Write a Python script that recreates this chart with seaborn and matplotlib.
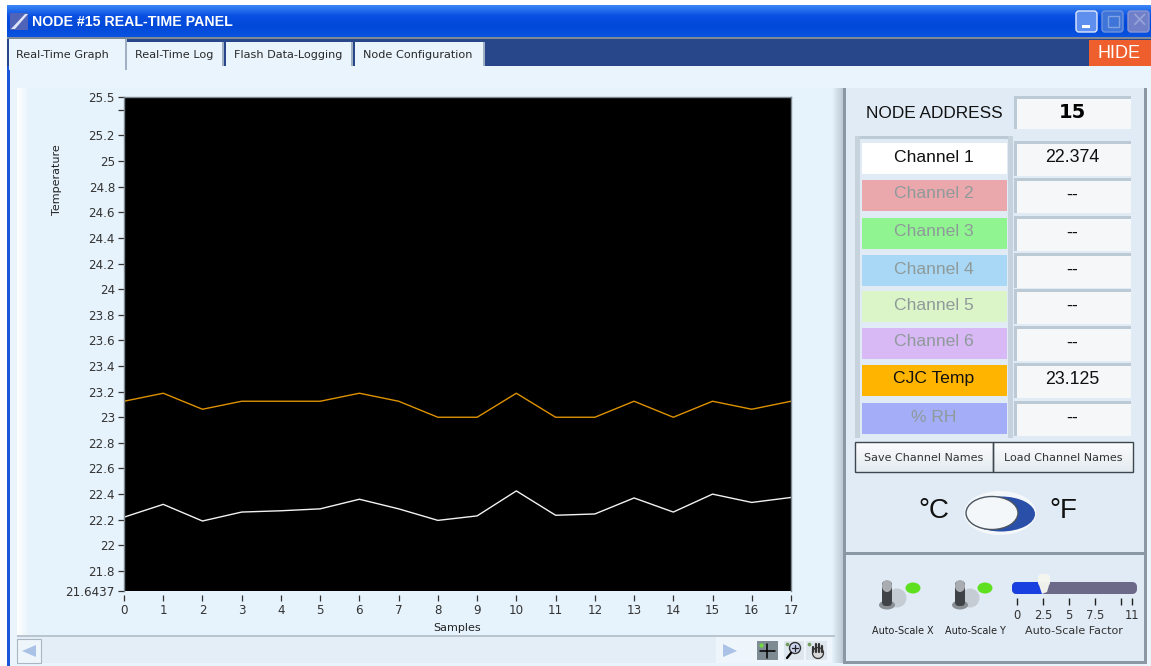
"""LabVIEW style real-time panel: temperature trace plus instrument controls."""

import matplotlib

matplotlib.use("Agg")

import matplotlib.pyplot as plt
import numpy as np
import pandas as pd
import seaborn as sns
from matplotlib.colors import LinearSegmentedColormap
from matplotlib.patches import Ellipse, FancyBboxPatch, Polygon, Rectangle

SAMPLES = list(range(18))
CHANNEL_1 = [22.22, 22.32, 22.19, 22.26, 22.27, 22.285, 22.36, 22.285, 22.195,
             22.23, 22.425, 22.235, 22.245, 22.37, 22.26, 22.40, 22.335, 22.374]
CJC_TEMP = [23.125, 23.1875, 23.0625, 23.125, 23.125, 23.125, 23.1875, 23.125, 23.0,
            23.0, 23.1875, 23.0, 23.0, 23.125, 23.0, 23.125, 23.0625, 23.125]

Y_TICKS = [21.6437, 21.8, 22, 22.2, 22.4, 22.6, 22.8, 23, 23.2, 23.4, 23.6, 23.8,
           24, 24.2, 24.4, 24.6, 24.8, 25, 25.2, 25.4, 25.5]
Y_LABELS = ["21.6437", "21.8", "22", "22.2", "22.4", "22.6", "22.8", "23", "23.2",
            "23.4", "23.6", "23.8", "24", "24.2", "24.4", "24.6", "24.8", "25",
            "25.2", "", "25.5"]

TABS = ["Real-Time Graph", "Real-Time Log", "Flash Data-Logging", "Node Configuration"]
CHANNELS = ["Channel 1", "Channel 2", "Channel 3", "Channel 4",
            "Channel 5", "Channel 6", "CJC Temp", "% RH"]
CHANNEL_VALUES = ["22.374", "--", "--", "--", "--", "--", "23.125", "--"]
CHANNEL_COLORS = ["#ffffff", "#eba8ac", "#90f590", "#a8d8f5",
                  "#dcf5c8", "#d8b8f5", "#ffb400", "#a4aef8"]
CHANNEL_TEXT = ["#111111", "#8f9a9a", "#8f9a9a", "#8f9a9a",
                "#8f9a9a", "#8f9a9a", "#111111", "#8f9a9a"]
SLIDER_TICKS = [0, 2.5, 5, 7.5, 10, 11]
SLIDER_LABELS = ["0", "2.5", "5", "7.5", "", "11"]

W, H = 1151, 666

sns.set_theme(style="white")
plt.rcParams["font.family"] = ["DejaVu Sans"]
plt.rcParams["patch.edgecolor"] = "none"

fig = plt.figure(figsize=(W / 100, H / 100), dpi=100, facecolor="white")

# chrome layer in pixel coordinates
bg = fig.add_axes([0, 0, 1, 1])
bg.axis("off")


def rect(x0, y0, x1, y1, color, zorder=1, **kw):
    bg.add_patch(Rectangle((x0, y0), x1 - x0, y1 - y0, facecolor=color,
                           edgecolor=kw.pop("edge", "none"), zorder=zorder, **kw))


def poly(points, color, zorder=3):
    bg.add_patch(Polygon(points, facecolor=color, edgecolor="none", zorder=zorder))


def oval(x, y, w, h, color, zorder=3, edge="none", lw=0):
    bg.add_patch(Ellipse((x, y), w, h, facecolor=color, edgecolor=edge, linewidth=lw, zorder=zorder))


def label(x, y, s, size=8, color="#222222", ha="center", **kw):
    bg.text(x, y, s, fontsize=size, color=color, ha=ha, va="center", zorder=6, **kw)


def gradient(x0, y0, x1, y1, colors, zorder=1, horizontal=False):
    cmap = LinearSegmentedColormap.from_list("chrome", colors)
    img = np.linspace(0, 1, 32).reshape(1, -1) if horizontal else np.linspace(0, 1, 32).reshape(-1, 1)
    bg.imshow(img, extent=(x0, x1, y1, y0), aspect="auto", cmap=cmap, zorder=zorder)


def sunken(x0, y0, x1, y1, color):
    rect(x0, y0, x1, y1, "#bccad5", zorder=2)
    rect(x0 + 3, y0 + 3, x1, y1, color, zorder=3)


# window
rect(7, 5, W, H, "#e9f4fc", zorder=0)
rect(7, 5, 10, H, "#1b55d8", zorder=1)
gradient(7, 5, W, 37, ["#3a86f4", "#0a50e2", "#0048d8", "#0a52e0"])
rect(7, 37, W, 40, "#7f8a96", zorder=1)
rect(7, 39, W, 66, "#27478a", zorder=1)

poly([(10, 30), (10, 13), (28, 13), (28, 30)], "#4f63b8", zorder=2)
poly([(11, 29), (25, 14), (28, 14), (15, 29)], "#dfe5f6", zorder=3)
label(32, 22, "NODE #15 REAL-TIME PANEL", size=10.2, color="white", ha="left",
      family="Liberation Sans", weight="bold")

# window buttons
for x0, col, edge in [(1076, "#5f8fee", "#dfe9fb"), (1102, "#3f74d8", "#6d94dd"),
                      (1128, "#6f7fc8", "#8b97d2")]:
    bg.add_patch(FancyBboxPatch((x0, 11), 21, 21, boxstyle="round,pad=0,rounding_size=3",
                                facecolor=col, edgecolor=edge, lw=1, zorder=3))
rect(1082, 25, 1090, 28, "white", zorder=4)
rect(1108, 16, 1119, 27, "none", zorder=4, edge="#7fa3e2")
label(1139, 21, "×", size=15, color="#97a2d8")

# tabs
tab_spans = [(9, 125, 39, 70), (127, 222, 42, 66), (226, 351, 42, 66), (355, 483, 42, 66)]
tab_text_x = [62, 174, 288, 418]
for i, (name, span) in enumerate(zip(TABS, tab_spans)):
    x0, x1, y0, y1 = span
    rect(x0, y0, x1, y1, "#e9f4fc", zorder=2)
    rect(x1, y0, x1 + 2, y1, "#9fb0c4", zorder=2)
    label(tab_text_x[i], 55, name, size=8.1, color="#2a2a2a")

rect(1089, 40, W, 66, "#ef5f2e", zorder=2)
label(1119, 53, "HIDE", size=13, color="white", family="Liberation Sans")

# graph frame
gradient(17, 88, 28, 635, ["#ffffff", "#e9f4fc"], horizontal=True)
rect(28, 88, 832, 635, "#e6f3fc", zorder=1)
gradient(832, 88, 843, 663, ["#e6f3fc", "#bcc9d4"], horizontal=True)
rect(17, 635, 835, 637, "#b9c4cf", zorder=2)
rect(17, 637, 832, 663, "#e4eef7", zorder=1)
rect(17, 639, 41, 663, "#eef5fb", zorder=2, edge="#aab6c2", linewidth=0.8)
poly([(22, 651), (36, 645), (36, 657)], "#a9c2e6")
rect(716, 637, 832, 663, "#eef6fc", zorder=2)
poly([(723, 644), (737, 651), (723, 657)], "#a9c2e6")

# graph tools
rect(757, 641, 778, 660, "#7f8b93", zorder=3)
bg.plot([767, 767], [644, 658], color="black", lw=1.1, zorder=4)
bg.plot([760, 775], [651, 651], color="black", lw=1.1, zorder=4)
bg.scatter([761], [645], s=9, color="#6fdc3c", linewidths=0, zorder=5)
rect(784, 641, 804, 660, "#dfe7ee", zorder=3)
oval(795, 648, 11, 11, "#cdd5ef", zorder=4, edge="#333333", lw=1)
bg.plot([792, 798], [648, 648], color="#222222", lw=0.9, zorder=5)
bg.plot([795, 795], [645, 651], color="#222222", lw=0.9, zorder=5)
bg.plot([787, 791], [658, 653], color="black", lw=1.6, zorder=4)
bg.scatter([787], [644], s=7, color="#6f9c5c", linewidths=0, zorder=5)
rect(806, 641, 827, 660, "#dfe7ee", zorder=3)
oval(818, 653, 11, 11, "#d8d8d8", zorder=4, edge="#333333", lw=0.9)
for fx, ftop in [(813.5, 647), (816.5, 644), (819.5, 644), (822.5, 646)]:
    bg.plot([fx, fx], [ftop, 652], color="#333333", lw=1.6, zorder=5)
bg.scatter([809], [644], s=7, color="#6f9c5c", linewidths=0, zorder=5)

# right panel
rect(845, 88, 1146, 663, "#e1ebf5", zorder=1)
rect(843, 88, 846, 663, "#8b98a4", zorder=2)
rect(1144, 88, 1147, 663, "#8b98a4", zorder=2)
rect(845, 552, 1146, 555, "#8b98a4", zorder=2)
rect(843, 661, 1147, 664, "#8b98a4", zorder=2)

label(934, 114, "NODE ADDRESS", size=12.4, color="#111111", family="Liberation Sans")
sunken(1014, 96, 1131, 129, "#f6f7f8")
label(1072, 113, "15", size=14, color="black", weight="bold")

# channel list
rect(855, 136, 1012, 139, "#bccad5", zorder=2)
rect(855, 136, 860, 438, "#c6d2dc", zorder=2)
rect(1008, 136, 1013, 438, "#c6d2dc", zorder=2)
row_tops = [143, 180, 218, 255, 291, 328, 365, 403]
for name, value, col, tcol, top in zip(CHANNELS, CHANNEL_VALUES, CHANNEL_COLORS,
                                        CHANNEL_TEXT, row_tops):
    rect(862, top, 1007, top + 31, col, zorder=3)
    label(934, top + 14, name, size=12.6, color=tcol, family="Liberation Sans")
    sunken(1014, top - 2, 1131, top + 33, "#f6f7f8")
    label(1072, top + 15, value, size=12.8, color="#111111", family="Liberation Sans")

# buttons
for x0, x1, name in [(855, 993, "Save Channel Names"), (993, 1133, "Load Channel Names")]:
    gradient(x0, 442, x1, 472, ["#fbfcfd", "#e4ebf0"], zorder=3)
    rect(x0, 442, x1, 472, "none", zorder=4, edge="#3d4750", linewidth=1)
    label((x0 + x1) / 2, 458, name, size=8, color="#333333")

# degree switch
label(934, 511, "°C", size=20, color="#111111", family="Liberation Sans")
label(1063, 511, "°F", size=20, color="#111111", family="Liberation Sans")
oval(1000, 513, 72, 44, "#f4f8fb", zorder=3)
oval(1001, 514, 68, 35, "#2a4fa8", zorder=4)
oval(992, 513, 52, 33, "#f4f7fa", zorder=5, edge="#4a5560", lw=1)

# auto-scale toggles
for x_tog, x_led, name in [(887, 913, "Auto-Scale X"), (960, 985, "Auto-Scale Y")]:
    oval(x_tog + 10, 598, 19, 19, "#c5ccd3", zorder=3)
    oval(x_tog, 605, 16, 9, "#8a8f94", zorder=4)
    bg.add_patch(FancyBboxPatch((x_tog - 5, 581), 10, 25, boxstyle="round,pad=0,rounding_size=4",
                                facecolor="#3f4246", edgecolor="none", zorder=5))
    oval(x_tog, 586, 10, 12, "#a9adb1", zorder=5.5)
    oval(x_led, 588, 15, 11, "#5ee01f", zorder=4)
    label((x_tog + x_led) / 2 + 3, 631, name, size=6.9, color="#222222")

# auto-scale factor slider, value axis kept in its own inset
bg.add_patch(FancyBboxPatch((1012, 582), 125, 12, boxstyle="round,pad=0,rounding_size=5",
                            facecolor="#6b6888", edgecolor="none", zorder=3))
bg.add_patch(FancyBboxPatch((1012, 582), 34, 12, boxstyle="round,pad=0,rounding_size=5",
                            facecolor="#1a3fe0", edgecolor="none", zorder=4))
bg.add_patch(FancyBboxPatch((1038, 574), 12, 12, boxstyle="round,pad=0,rounding_size=4",
                            facecolor="#f5f5f0", edgecolor="none", zorder=5))
poly([(1038, 582), (1050, 582), (1047, 592), (1042, 594)], "#f0f0ea", zorder=5)

slider = fig.add_axes([1012 / W, 1 - 594 / H, 125 / W, 12 / H], facecolor="none")
slider.set_xlim(-0.45, 11.5)
slider.set_ylim(0, 1)
for s in slider.spines.values():
    s.set_visible(False)
slider.set_yticks([])
slider.set_xticks(SLIDER_TICKS, SLIDER_LABELS)
slider.tick_params(axis="x", length=5, width=1, color="#222222", pad=3, labelsize=8.3,
                   labelcolor="#333333", bottom=True)
slider.spines["bottom"].set_position(("outward", 3))
label(1074, 631, "Auto-Scale Factor", size=8, color="#333333")

# main graph
ax = fig.add_axes([124 / W, 1 - 591 / H, 667 / W, 494 / H], facecolor="black")
frame = pd.DataFrame({"sample": SAMPLES, "channel": CHANNEL_1, "cjc": CJC_TEMP})
sns.lineplot(data=frame, x="sample", y="channel", color="#f2f2f2", lw=1, ax=ax, errorbar=None)
sns.lineplot(data=frame, x="sample", y="cjc", color="#de9200", lw=1, ax=ax, errorbar=None)
ax.set_xlim(0, 17)
ax.set_ylim(21.6437, 25.5)
ax.set_xticks(SAMPLES)
ax.set_yticks(Y_TICKS, Y_LABELS)
ax.tick_params(axis="both", length=4, width=0.9, color="#333333", labelsize=8.6,
               labelcolor="#333333", bottom=True, left=True, pad=2.5)
ax.set_xlabel("Samples", fontsize=8, color="#222222", labelpad=4)
ax.set_ylabel("")
for s in ax.spines.values():
    s.set_color("#7c8790")
    s.set_linewidth(1)
ax.spines["bottom"].set_position(("outward", 3))
ax.spines["bottom"].set_visible(False)
label(57, 180, "Temperature", size=8, color="#222222", rotation=90)

bg.set_xlim(0, W)
bg.set_ylim(H, 0)

fig.savefig("out.png", dpi=100)
